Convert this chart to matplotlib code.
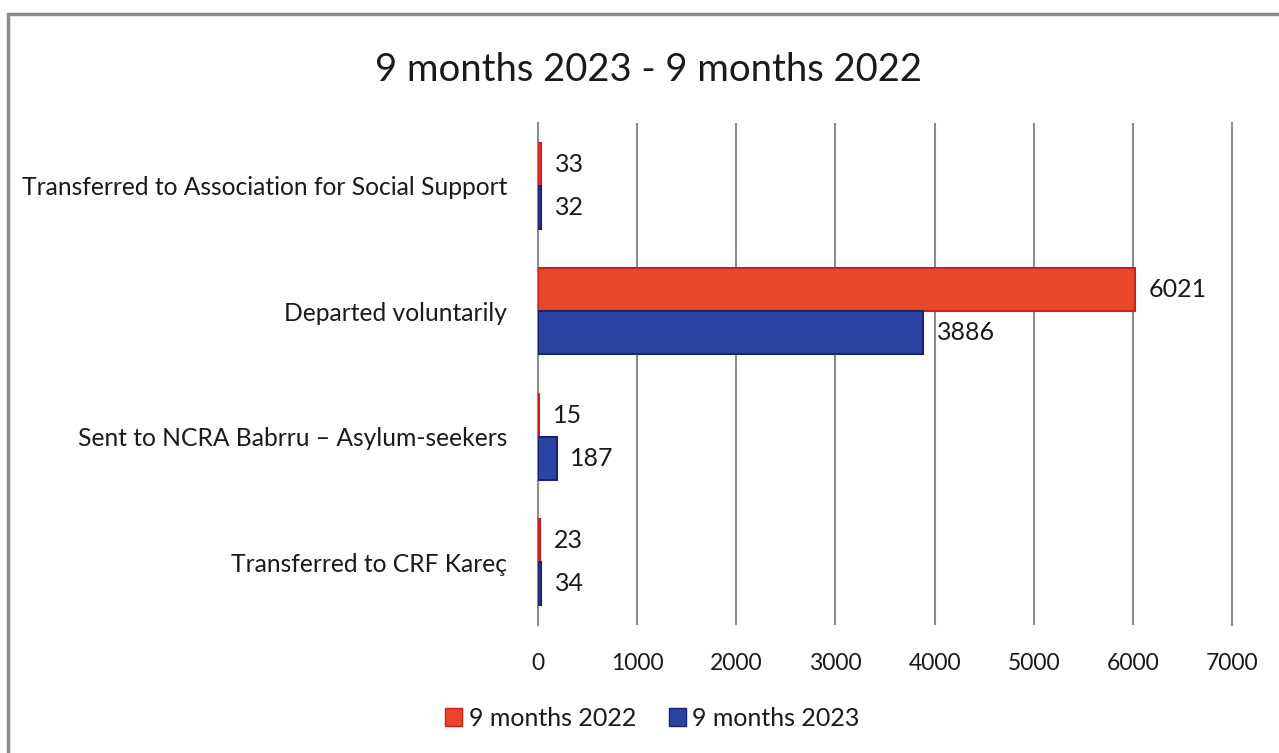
import numpy as np
import matplotlib
matplotlib.use("Agg")
from matplotlib import pyplot as plt
from matplotlib.patches import Patch, Rectangle

# Data
categories = [
    "Transferred to Association for Social Support",
    "Departed voluntarily",
    "Sent to NCRA Babrru \u2013 Asylum-seekers",
    "Transferred to CRF Kare\u00e7",
]
values_2022 = [33, 6021, 15, 23]
values_2023 = [32, 3886, 187, 34]
series_names = ["9 months 2022", "9 months 2023"]
x_ticks = [0, 1000, 2000, 3000, 4000, 5000, 6000, 7000]

plt.rcParams["font.family"] = ["Lato", "DejaVu Sans"]

RED_FACE, RED_EDGE = "#E9472A", "#D01E1E"
BLUE_FACE, BLUE_EDGE = "#2B44A3", "#1C226E"
TEXT = "#1a1a1a"

fig = plt.figure(figsize=(12.79, 7.53), dpi=100)

# Outer grey frame around the chart area
fig.patches.append(Rectangle((8 / 1279, -0.05), 1.1, 1 - 14 / 753 + 0.05,
                             transform=fig.transFigure, fill=False,
                             edgecolor="#8a8a8a", linewidth=2.5))

ax = fig.add_axes([538 / 1279, 1 - 625 / 753, (1232 - 538) / 1279, (625 - 123) / 753])

y = np.arange(len(categories))
h = 0.343
bars_22 = ax.barh(y - h / 2, values_2022, height=h, color=RED_FACE,
                  edgecolor=RED_EDGE, linewidth=1.5, zorder=3)
bars_23 = ax.barh(y + h / 2, values_2023, height=h, color=BLUE_FACE,
                  edgecolor=BLUE_EDGE, linewidth=1.5, zorder=3)

ax.bar_label(bars_22, labels=[str(v) for v in values_2022], padding=10,
             fontsize=18, color=TEXT)
ax.bar_label(bars_23, labels=[str(v) for v in values_2023], padding=10,
             fontsize=18, color=TEXT)

ax.set_xlim(0, 7000)
ax.set_ylim(len(categories) - 0.5, -0.5)
ax.set_xticks(x_ticks)
ax.set_xticklabels([str(t) for t in x_ticks], fontsize=16.5, color=TEXT)
ax.set_yticks(y)
ax.set_yticklabels(categories, fontsize=17.7, color=TEXT)
ax.tick_params(axis="both", length=0)
ax.tick_params(axis="x", pad=20)
ax.tick_params(axis="y", pad=22)

ax.grid(axis="x", color="#8c8c8c", linewidth=1.5, zorder=0)
ax.xaxis.get_gridlines()[-1].set_clip_on(False)
for side in ["top", "right", "bottom"]:
    ax.spines[side].set_visible(False)
ax.spines["left"].set_color("#8c8c8c")
ax.spines["left"].set_linewidth(1.5)

fig.text(0.507, 1 - 70 / 753, "9 months 2023 - 9 months 2022",
         ha="center", va="center", fontsize=27.5, color=TEXT)

handles = [Patch(facecolor=RED_FACE, edgecolor=RED_EDGE),
           Patch(facecolor=BLUE_FACE, edgecolor=BLUE_EDGE)]
fig.legend(handles, series_names, loc="center", ncol=2, frameon=False,
           bbox_to_anchor=(0.51, 1 - 718 / 753), fontsize=18,
           handlelength=0.7, handleheight=0.7, handletextpad=0.25,
           columnspacing=1.3, labelcolor=TEXT)

fig.savefig("out.png", dpi=100)
